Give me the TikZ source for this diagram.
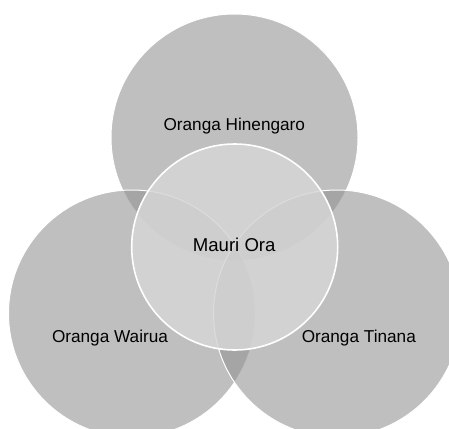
\documentclass[tikz,border=0pt]{standalone}
\usepackage{fontspec}
\setmainfont{Liberation Sans}
\usepackage{tikz}

\begin{document}
\begin{tikzpicture}[x=1pt,y=-1pt,
		ring/.style={circle,minimum size=247pt,inner sep=0pt,fill=black!42,fill opacity=0.6,draw=white,line width=1pt},
		core/.style={circle,minimum size=206pt,inner sep=0pt,fill=black!16,fill opacity=0.85,draw=white,line width=1.6pt},
		tag/.style={anchor=base,inner sep=0pt,font=\fontsize{17.2}{20}\selectfont}]
		\useasboundingbox (0,0) rectangle (449,428);
		%
		\node[ring] (hinengaro) at (234.5,137.5) {};
		\node[ring] (wairua) at (132,313.5) {};
		\node[ring] (tinana) at (337,313.5) {};
		\node[core] (mauri) at (234.7,247) {};
		%
		% labels
		\node[tag] (hinengaro text) at (234.3,130) {Oranga Hinengaro};
		\node[tag] (wairua text) at (110,342) {Oranga Wairua};
		\node[tag] (tinana text) at (358.8,342) {Oranga Tinana};
		\node[tag,font=\fontsize{18.6}{22}\selectfont] (mauri text) at (234.2,251) {Mauri Ora};
\end{tikzpicture}
\end{document}
